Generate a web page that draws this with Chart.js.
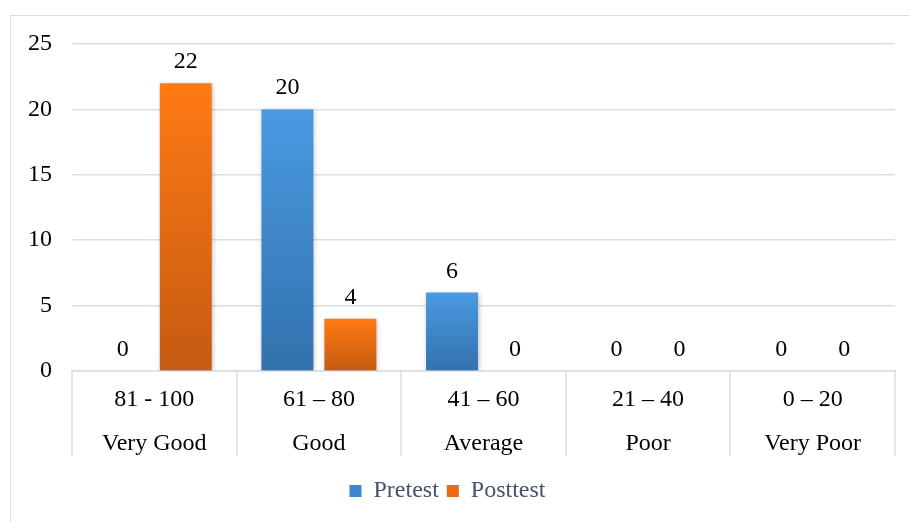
<!DOCTYPE html>
<html>
<head>
<meta charset="utf-8">
<script src="https://cdn.jsdelivr.net/npm/chart.js@4"></script>
<style>
  body { margin: 0; background: #fff; overflow: hidden; }
  #wrap { position: relative; width: 909px; height: 522px; }
  #frame { position: absolute; left: 10px; top: 15px; width: 920px; height: 540px; border: 1px solid #d9dde5; box-sizing: border-box; }
  canvas { position: absolute; left: 0; top: 0; }
</style>
</head>
<body>
<div id="wrap">
  <div id="frame"></div>
  <canvas id="chart" width="909" height="522"></canvas>
</div>
<script>
const ranges = ["81 - 100", "61 \u2013 80", "41 \u2013 60", "21 \u2013 40", "0 \u2013 20"];
const grades = ["Very Good", "Good", "Average", "Poor", "Very Poor"];
const pretest = [0, 20, 6, 0, 0];
const posttest = [22, 4, 0, 0, 0];

const FONT = "'Liberation Serif', 'Times New Roman', serif";
const LINE = "#d9dde5";

function barGradient(top, bottom) {
  //gradient runs from the top of each bar to the zero line
  return (context) => {
    const chart = context.chart;
    if (!chart.chartArea || context.raw === undefined) return top;
    const y = chart.scales.y;
    const y1 = y.getPixelForValue(context.raw);
    const y0 = y.getPixelForValue(0);
    if (y0 - y1 < 1) return top;
    const g = chart.ctx.createLinearGradient(0, y1, 0, y0);
    g.addColorStop(0, top);
    g.addColorStop(1, bottom);
    return g;
  };
}

const barShadow = {
  id: "barShadow",
  beforeDatasetsDraw(chart) {
    const ctx = chart.ctx;
    ctx.save();
    ctx.shadowColor = "rgba(0,0,0,0.28)";
    ctx.shadowBlur = 5;
    ctx.shadowOffsetX = 1;
    ctx.shadowOffsetY = 1;
  },
  afterDatasetsDraw(chart) {
    chart.ctx.restore();
  }
};

const valueLabels = {
  id: "valueLabels",
  afterDatasetsDraw(chart) {
    const ctx = chart.ctx;
    ctx.save();
    ctx.font = "24px " + FONT;
    ctx.fillStyle = "#000";
    ctx.textAlign = "center";
    ctx.textBaseline = "alphabetic";
    chart.data.datasets.forEach((ds, i) => {
      chart.getDatasetMeta(i).data.forEach((bar, j) => {
        ctx.fillText(String(ds.data[j]), bar.x, bar.y - 15);
      });
    });
    ctx.restore();
  }
};

const categoryDividers = {
  id: "categoryDividers",
  afterDraw(chart) {
    //vertical lines between categories, down through both label rows
    const x = chart.scales.x;
    const n = chart.data.labels.length;
    const step = (x.right - x.left) / n;
    const top = chart.chartArea.bottom;
    const ctx = chart.ctx;
    ctx.save();
    ctx.strokeStyle = LINE;
    ctx.lineWidth = 1.5;
    ctx.beginPath();
    for (let i = 0; i <= n; i++) {
      const px = Math.round(x.left + i * step);
      ctx.moveTo(px, top);
      ctx.lineTo(px, top + 85);
    }
    ctx.stroke();
    ctx.restore();
  }
};

new Chart(document.getElementById("chart"), {
  type: "bar",
  data: {
    labels: ranges.map((r, i) => [r, grades[i]]),
    datasets: [
      {
        label: "Pretest",
        data: pretest,
        backgroundColor: barGradient("#4a9ae2", "#3271ad"),
        legendColor: "#3f86cc"
      },
      {
        label: "Posttest",
        data: posttest,
        backgroundColor: barGradient("#ff7a14", "#c55a12"),
        legendColor: "#ea6a10"
      }
    ]
  },
  options: {
    responsive: false,
    animation: false,
    events: [],
    categoryPercentage: 0.765,
    barPercentage: 0.825,
    layout: { padding: { top: 44, right: 14, left: 0, bottom: 9 } },
    plugins: {
      tooltip: { enabled: false },
      legend: {
        position: "bottom",
        labels: {
          font: { family: FONT, size: 24 },
          color: "#44546a",
          boxWidth: 12,
          boxHeight: 12,
          padding: 8,
          generateLabels(chart) {
            return chart.data.datasets.map((ds, i) => ({
              text: ds.label,
              fillStyle: ds.legendColor,
              strokeStyle: ds.legendColor,
              lineWidth: 0,
              fontColor: "#44546a",
              datasetIndex: i
            }));
          }
        }
      }
    },
    scales: {
      x: {
        offset: true,
        afterFit(scale) { scale.height = 100; },
        grid: { offset: true, drawOnChartArea: false, drawTicks: false },
        border: { display: true, color: LINE, width: 1.5 },
        ticks: {
          color: "#000",
          font: { family: FONT, size: 24, lineHeight: 1.83 },
          padding: 7,
          maxRotation: 0,
          autoSkip: false
        }
      },
      y: {
        min: 0,
        max: 25,
        afterFit(scale) { scale.width = 72; },
        grid: { color: LINE, lineWidth: 1.5, drawTicks: false },
        border: { display: false },
        ticks: {
          stepSize: 5,
          color: "#000",
          padding: 20,
          font: { family: FONT, size: 24 }
        }
      }
    }
  },
  plugins: [barShadow, valueLabels, categoryDividers]
});
</script>
</body>
</html>
